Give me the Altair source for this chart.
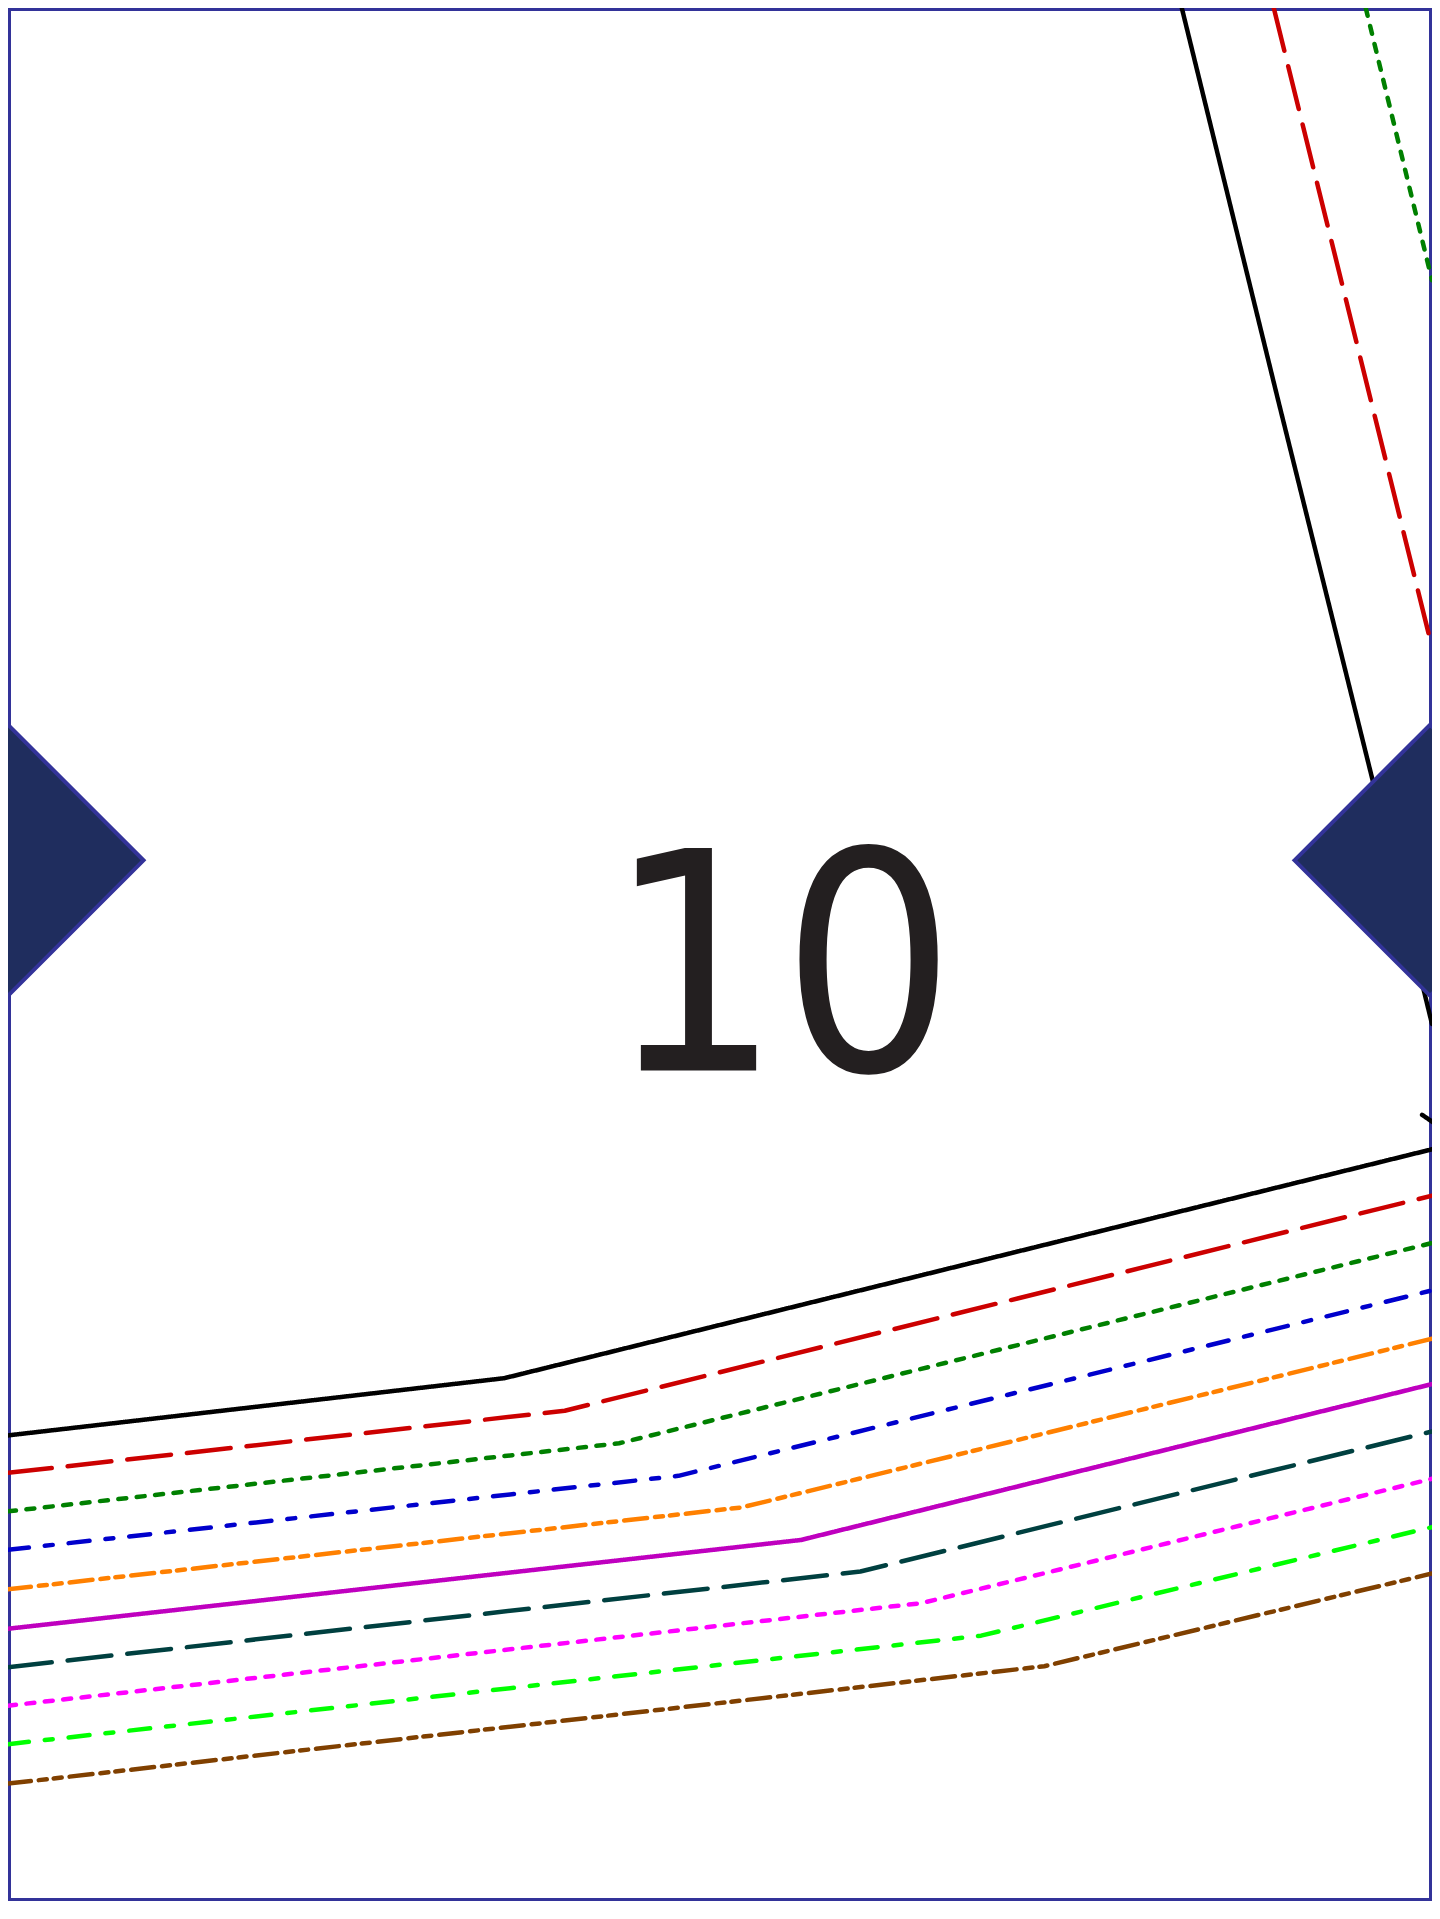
import altair as alt
import pandas as pd

# ---- series styles (ten line styles) ----
SERIES = ["black", "red", "green", "blue", "orange", "magenta", "teal", "pink", "lime", "brown"]
COLORS = ["#000000", "#cc0000", "#008000", "#0000cc", "#ff8000",
          "#bf00bf", "#004040", "#ff00ff", "#00ff00", "#804000"]
DASHES = [[1, 0], [44, 16], [8, 10.5], [21, 16, 8, 16], [23, 8, 8, 7, 8, 8],
          [1, 0], [44, 16], [8, 10.5], [21, 16, 8, 16], [23, 8, 8, 7, 8, 8]]

# ---- lower bundle: left end, kink, right end ----
LOWER_LEFT_X = [0, 0, 0, 0, 0, 0, 0, 0, 0, 0]
LOWER_LEFT_Y = [1447, 1485, 1524, 1563, 1603, 1643, 1682, 1721, 1760, 1800]
KINK_X = [502, 563, 618, 678, 742, 802, 862, 924, 984, 1048]
KINK_Y = [1389, 1422, 1455, 1488, 1520, 1553, 1585, 1617, 1650, 1681]
LOWER_RIGHT_X = [1440, 1440, 1440, 1440, 1440, 1440, 1440, 1440, 1440, 1440]
LOWER_RIGHT_Y = [1157, 1204, 1252, 1300, 1349, 1395, 1443, 1491, 1540, 1587]

# ---- upper steep lines ----
UP_BLACK_X = [1187, 1285, 1380, 1440]
UP_BLACK_Y = [0, 400, 783, 1030]
UP_RED_X = [1280, 1377, 1440]
UP_RED_Y = [0, 393, 648]
UP_GREEN_X = [1373, 1440]
UP_GREEN_Y = [0, 276]
HOOK_X = [1430, 1446]
HOOK_Y = [1122, 1133]

# ---- markers and label ----
DIAMOND_X = [0, 1438]
DIAMOND_Y = [864, 864]
LABEL = ["10"]
LABEL_X = [782]
LABEL_Y = [1077]

rows = []
for i, s in enumerate(SERIES):
    pts = [(LOWER_LEFT_X[i], LOWER_LEFT_Y[i]), (KINK_X[i], KINK_Y[i]),
           (LOWER_RIGHT_X[i], LOWER_RIGHT_Y[i])]
    for k, (x, y) in enumerate(pts):
        rows.append({"line": f"low_{s}", "style": s, "order": k, "x": x, "y": y})
for name, style, xs_, ys_ in [("up_black", "black", UP_BLACK_X, UP_BLACK_Y),
                              ("up_red", "red", UP_RED_X, UP_RED_Y),
                              ("up_green", "green", UP_GREEN_X, UP_GREEN_Y),
                              ("hook", "black", HOOK_X, HOOK_Y)]:
    for k, (x, y) in enumerate(zip(xs_, ys_)):
        rows.append({"line": name, "style": style, "order": k, "x": x, "y": y})
lines_df = pd.DataFrame(rows)
diam_df = pd.DataFrame({"x": DIAMOND_X, "y": DIAMOND_Y})
label_df = pd.DataFrame({"label": LABEL, "x": LABEL_X, "y": LABEL_Y})

xs = alt.Scale(domain=[0, 1440], nice=False, zero=False)
ys = alt.Scale(domain=[0, 1919], nice=False, zero=False, reverse=True)

lines = alt.Chart(lines_df).mark_line(
    clip=True, strokeWidth=4.5, strokeCap="round", strokeJoin="round"
).encode(
    x=alt.X("x:Q", scale=xs, axis=None),
    y=alt.Y("y:Q", scale=ys, axis=None),
    color=alt.Color("style:N", scale=alt.Scale(domain=SERIES, range=COLORS), legend=None),
    strokeDash=alt.StrokeDash("style:N", scale=alt.Scale(domain=SERIES, range=DASHES), legend=None),
    detail="line:N",
    order="order:Q",
)

diamonds = alt.Chart(diam_df).mark_point(
    shape="diamond", size=73441, filled=True, fill="#1f2d5e",
    stroke="#333399", strokeWidth=4, opacity=1, clip=True
).encode(
    x=alt.X("x:Q", scale=xs, axis=None),
    y=alt.Y("y:Q", scale=ys, axis=None),
)

label = alt.Chart(label_df).mark_text(
    font="DejaVu Sans Condensed, DejaVu Sans", fontSize=305, color="#231f20",
    align="center", baseline="alphabetic"
).encode(
    x=alt.X("x:Q", scale=xs, axis=None),
    y=alt.Y("y:Q", scale=ys, axis=None),
    text="label:N",
)

chart = alt.layer(lines, diamonds, label).properties(
    width=1424, height=1893, padding=0, background="white",
    autosize=alt.AutoSizeParams(type="none"),
).configure_view(stroke="#333399", strokeWidth=6)

chart.save("out.html", embed_options={"renderer": "svg", "actions": False})
